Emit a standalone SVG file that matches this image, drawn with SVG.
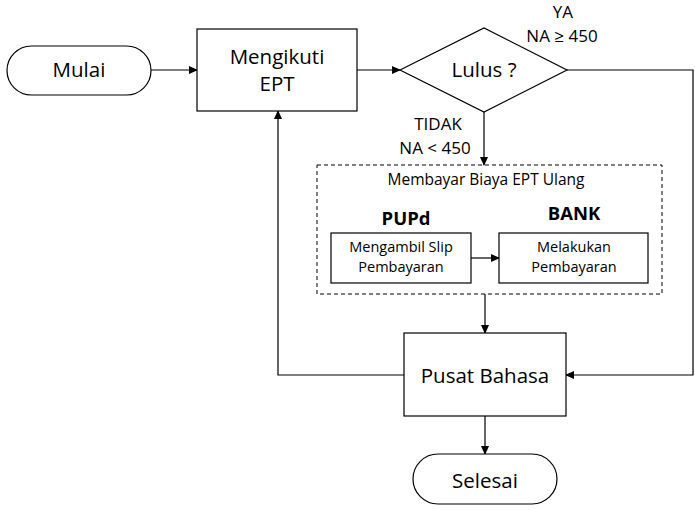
<svg xmlns="http://www.w3.org/2000/svg" width="695" height="510" viewBox="0 0 695 510">
<defs>
<marker id="arr" markerWidth="9" markerHeight="8" refX="8" refY="4" orient="auto" markerUnits="userSpaceOnUse">
<path d="M0,0 L9,4 L0,8 Z" fill="#000"/>
</marker>
<style>
.box{fill:#fff;stroke:#000;stroke-width:1.2}
.line{fill:none;stroke:#000;stroke-width:1.2}
.t{font-family:"Open Sans","Noto Sans","Liberation Sans",sans-serif;fill:#000;text-anchor:middle}
.big{font-size:20.5px}
.mid{font-size:17px}
.sm{font-size:15.5px}
.sm2{font-size:14.5px}
.bold{font-size:18.5px;font-weight:bold}
</style>
</defs>
<rect width="695" height="510" fill="#fff"/>
<g id="connectors">
<line class="line" x1="151" y1="70" x2="197" y2="70" marker-end="url(#arr)"/>
<line class="line" x1="357" y1="70" x2="400" y2="70" marker-end="url(#arr)"/>
<polyline class="line" points="567,70 693,70 693,375 566,375" marker-end="url(#arr)"/>
<line class="line" x1="484" y1="112" x2="484" y2="165" marker-end="url(#arr)"/>
<line class="line" x1="471" y1="258" x2="499" y2="258" marker-end="url(#arr)"/>
<line class="line" x1="485" y1="294" x2="485" y2="333" marker-end="url(#arr)"/>
<polyline class="line" points="404,375 278,375 278,111" marker-end="url(#arr)"/>
<line class="line" x1="485" y1="416" x2="485" y2="454" marker-end="url(#arr)"/>
</g>
<g id="mulai">
<rect class="box" x="7" y="46" width="144" height="49" rx="24.5"/>
<text class="t big" x="79" y="77">Mulai</text>
</g>
<g id="mengikuti">
<rect class="box" x="197" y="29" width="160" height="82"/>
<text class="t big" x="277" y="64">Mengikuti</text>
<text class="t big" x="277" y="91">EPT</text>
</g>
<g id="lulus">
<polygon class="box" points="400,70 484,28 567,70 484,112"/>
<text class="t big" x="484" y="77">Lulus ?</text>
</g>
<g id="label-ya">
<text class="t mid" x="563" y="18">YA</text>
<text class="t mid" x="562" y="42">NA ≥ 450</text>
</g>
<g id="label-tidak">
<text class="t mid" x="438" y="130">TIDAK</text>
<text class="t mid" x="435" y="154">NA &lt; 450</text>
</g>
<g id="membayar">
<rect x="317" y="165" width="345" height="129" fill="none" stroke="#000" stroke-width="1" stroke-dasharray="4,3"/>
<text class="t sm" x="486" y="185">Membayar Biaya EPT Ulang</text>
<text class="t bold" x="406" y="225">PUPd</text>
<text class="t bold" x="574" y="220">BANK</text>
</g>
<g id="slip">
<rect class="box" x="331" y="233" width="140" height="50"/>
<text class="t sm2" x="401" y="251.5">Mengambil Slip</text>
<text class="t sm2" x="401" y="272">Pembayaran</text>
</g>
<g id="bayar">
<rect class="box" x="499" y="233" width="149" height="50"/>
<text class="t sm2" x="574" y="251.5">Melakukan</text>
<text class="t sm2" x="574" y="272">Pembayaran</text>
</g>
<g id="pusat">
<rect class="box" x="404" y="333" width="162" height="83"/>
<text class="t big" x="485" y="383">Pusat Bahasa</text>
</g>
<g id="selesai">
<rect class="box" x="413" y="454" width="144" height="50" rx="25"/>
<text class="t big" x="485" y="488">Selesai</text>
</g>
</svg>
